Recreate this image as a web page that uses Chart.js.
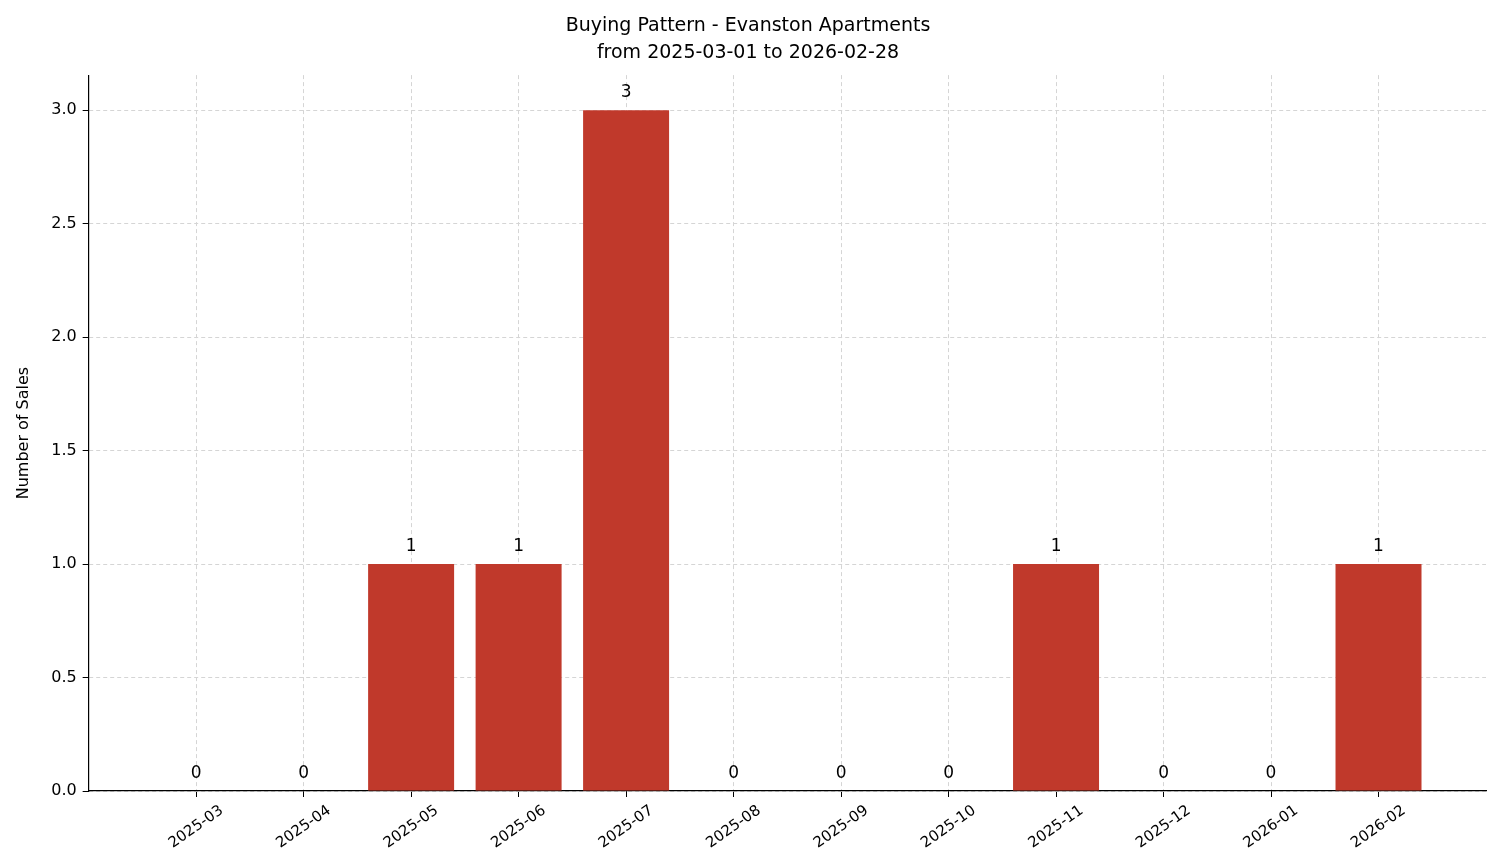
<!DOCTYPE html>
<html><head><meta charset="utf-8">
<script src="https://cdn.jsdelivr.net/npm/chart.js@4/dist/chart.umd.min.js"></script>
<style>body{margin:0;background:#fff}</style></head>
<body><canvas id="c" width="1501" height="863"></canvas>
<script>
const categories = ['2025-03','2025-04','2025-05','2025-06','2025-07','2025-08','2025-09','2025-10','2025-11','2025-12','2026-01','2026-02'];
const sales = [0,0,1,1,3,0,0,0,1,0,0,1];
const yTicks = [0,0.5,1,1.5,2,2.5,3];
const FONT = 'DejaVu Sans';

const labelsPlugin = {
  id: 'labelsPlugin',
  afterDatasetsDraw(chart) {
    const ctx = chart.ctx;
    const meta = chart.getDatasetMeta(0);
    ctx.save();
    ctx.fillStyle = '#000';
    ctx.font = '17px ' + FONT;
    ctx.textAlign = 'center';
    ctx.textBaseline = 'bottom';
    meta.data.forEach((el, i) => {
      ctx.fillText(String(sales[i]), el.x, el.y - 9);
    });
    const xs = chart.scales.x;
    ctx.font = '15px ' + FONT;
    ctx.textBaseline = 'middle';
    categories.forEach((c, i) => {
      const px = xs.getPixelForValue(i);
      ctx.save();
      ctx.translate(px, chart.chartArea.bottom + 36);
      ctx.rotate(-35 * Math.PI / 180);
      ctx.fillText(c, 0, 0);
      ctx.restore();
    });
    ctx.restore();
  }
};

new Chart(document.getElementById('c'), {
  type: 'bar',
  data: { datasets: [{ data: sales.map((v, i) => ({x: i, y: v})), backgroundColor: '#c0392b', borderWidth: 0, barPercentage: 0.8, categoryPercentage: 1 }] },
  options: {
    responsive: false, animation: false,
    layout: { padding: { left: 10, right: 15, top: 4, bottom: 0 } },
    plugins: {
      legend: { display: false }, tooltip: { enabled: false },
      title: { display: true, text: ['Buying Pattern - Evanston Apartments', 'from 2025-03-01 to 2026-02-28'],
        color: '#000', font: { family: FONT, size: 19, weight: 'normal', lineHeight: 1.45 }, padding: { top: 8, bottom: 8 } }
    },
    scales: {
      x: {
        type: 'linear', min: -1, max: 12, offset: false,
        afterBuildTicks(s) { s.ticks = categories.map((c, i) => ({value: i})); },
        ticks: { color: 'rgba(0,0,0,0)', font: { family: FONT, size: 15 }, maxRotation: 0, autoSkip: false, padding: 24, callback: (v) => '' + (categories[v] || '') },
        grid: { offset: false, color: '#d5d5d5', tickColor: '#000', tickLength: 6, drawOnChartArea: true, tickBorderDash: [0,0] },
        border: { color: '#000', dash: [4, 3], width: 1.2 }
      },
      y: {
        min: 0, max: 3.155,
        afterBuildTicks(s) { s.ticks = yTicks.map(v => ({value: v})); },
        ticks: { color: '#000', font: { family: FONT, size: 16 }, callback: v => v.toFixed(1), padding: 6 },
        grid: { color: '#d5d5d5', tickColor: '#000', tickLength: 6, tickBorderDash: [0,0] },
        border: { color: '#000', dash: [4, 3], width: 1.2 },
        title: { display: true, text: 'Number of Sales', color: '#000', font: { family: FONT, size: 16 }, padding: { bottom: 12 } }
      }
    }
  },
  plugins: [labelsPlugin]
});
</script></body></html>
